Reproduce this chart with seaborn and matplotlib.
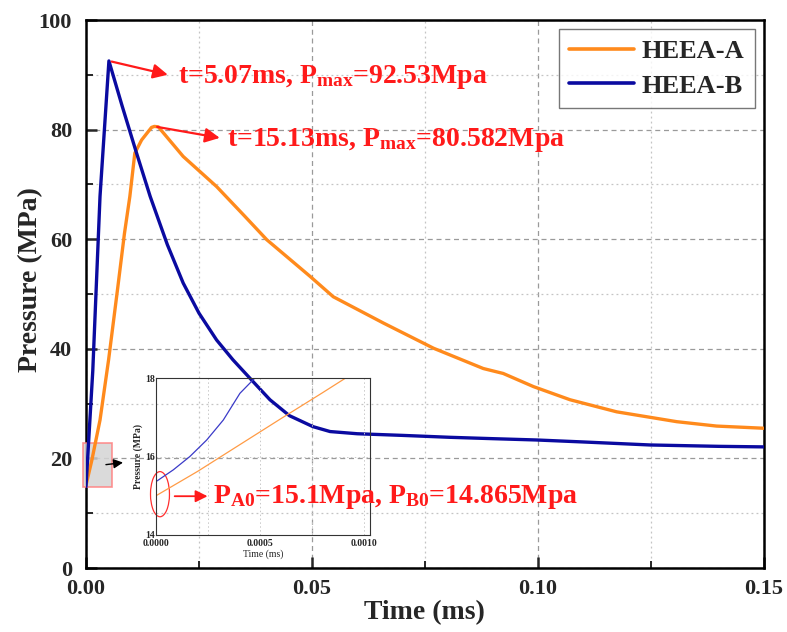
import matplotlib
matplotlib.use("Agg")
import matplotlib.pyplot as plt
from matplotlib.patches import Ellipse, Rectangle
from matplotlib.ticker import MultipleLocator, FormatStrFormatter
import pandas as pd
import seaborn as sns

# ── data ───────────────────────────────────────────────────────────
time_a = [0.0, 0.0013, 0.0031, 0.005, 0.007, 0.0085, 0.0097, 0.0108, 0.0123,
          0.0145, 0.01513, 0.016, 0.0215, 0.0289, 0.035, 0.040, 0.0496, 0.0547,
          0.0658, 0.0769, 0.0879, 0.0923, 0.099, 0.1071, 0.1174, 0.1307,
          0.1395, 0.15]
press_a = [15.1, 19.7, 27.0, 38.0, 51.0, 61.0, 67.8, 75.7, 78.1,
           80.4, 80.582, 80.5, 75.1, 69.6, 64.3, 59.9, 53.2, 49.5,
           44.7, 40.1, 36.4, 35.5, 33.1, 30.7, 28.5, 26.7,
           25.9, 25.5]

time_b = [0.0, 0.0015, 0.0031, 0.00507, 0.008, 0.011, 0.0142, 0.018, 0.0215,
          0.025, 0.0289, 0.0325, 0.0363, 0.0407, 0.045, 0.0502, 0.054, 0.060,
          0.070, 0.0805, 0.090, 0.0997, 0.110, 0.1248, 0.140, 0.15]
press_b = [14.865, 36.0, 67.8, 92.53, 84.3, 76.2, 67.8, 59.0, 52.0,
           46.5, 41.6, 38.0, 34.6, 30.7, 27.8, 25.8, 24.9, 24.5,
           24.2, 23.85, 23.6, 23.36, 23.0, 22.45, 22.2, 22.1]

# inset (zoom on the first microsecond)
inset_time_a = [0.0, 0.0002, 0.0004, 0.0006, 0.0008, 0.000913]
inset_press_a = [15.0, 15.62, 16.29, 16.96, 17.62, 18.0]
inset_time_b = [0.0, 0.0000833, 0.000163, 0.000244, 0.000324, 0.000404, 0.000476]
inset_press_b = [15.36, 15.66, 16.0, 16.42, 16.93, 17.61, 18.0]

series_names = ["HEEA-A", "HEEA-B"]
series_colors = {"HEEA-A": "#FF8A1C", "HEEA-B": "#0A0AA0"}
inset_colors = {"HEEA-A": "#FF9B45", "HEEA-B": "#3A3AC8"}

main_df = pd.concat([
    pd.DataFrame({"time": time_a, "pressure": press_a, "alloy": "HEEA-A"}),
    pd.DataFrame({"time": time_b, "pressure": press_b, "alloy": "HEEA-B"}),
])
inset_df = pd.concat([
    pd.DataFrame({"time": inset_time_a, "pressure": inset_press_a, "alloy": "HEEA-A"}),
    pd.DataFrame({"time": inset_time_b, "pressure": inset_press_b, "alloy": "HEEA-B"}),
])

sns.set_theme(style="ticks")
plt.rcParams["font.family"] = ["Liberation Serif", "DejaVu Serif"]
plt.rcParams["font.weight"] = "bold"
plt.rcParams["mathtext.fontset"] = "custom"
plt.rcParams["mathtext.rm"] = "Liberation Serif:bold"
plt.rcParams["mathtext.it"] = "Liberation Serif:bold"
plt.rcParams["mathtext.bf"] = "Liberation Serif:bold"

W, H = 787, 632
fig = plt.figure(figsize=(W / 100, H / 100), dpi=100)
ax = fig.add_axes([86 / W, 1 - 568 / H, 678 / W, 548 / H])

sns.lineplot(data=main_df, x="time", y="pressure", hue="alloy",
             hue_order=series_names, palette=series_colors,
             linewidth=2.4, sort=False, ax=ax, zorder=5)

ax.set_xlim(0, 0.15)
ax.set_ylim(0, 100)
ax.xaxis.set_major_locator(MultipleLocator(0.05))
ax.xaxis.set_minor_locator(MultipleLocator(0.025))
ax.yaxis.set_major_locator(MultipleLocator(20))
ax.yaxis.set_minor_locator(MultipleLocator(10))
ax.xaxis.set_major_formatter(FormatStrFormatter("%.2f"))
ax.grid(which="major", linestyle=(0, (4, 3)), color="#9a9a9a", linewidth=0.9)
ax.grid(which="minor", linestyle=(0, (1.5, 2.5)), color="#c4c4c4", linewidth=0.9)
ax.set_axisbelow(True)
ax.tick_params(which="major", direction="in", length=8, width=1.8, labelsize=16)
ax.tick_params(axis="x", which="major", pad=8)
ax.tick_params(axis="y", which="major", pad=10)
ax.tick_params(which="minor", direction="in", length=5, width=1.4)
for s in ax.spines.values():
    s.set_linewidth(1.8)
    s.set_color("black")
ax.set_xlabel("Time (ms)", fontsize=20, fontweight="bold")
ax.set_ylabel("Pressure (MPa)", fontsize=20, fontweight="bold")
ax.xaxis.set_label_coords(0.499, -0.058)
ax.yaxis.set_label_coords(-0.063, 0.526)

leg = ax.legend(title=None, loc="upper right", frameon=True, fancybox=False,
                prop={"weight": "bold", "size": 19}, handlelength=2.45,
                borderpad=0.4, labelspacing=0.42, handletextpad=0.3,
                borderaxespad=0, bbox_to_anchor=(0.9867, 0.9836))
leg.get_frame().set_edgecolor("#555555")
leg.get_frame().set_linewidth(1.0)
for line in leg.get_lines():
    line.set_linewidth(2.6)

# peak annotations
red = "#FF1A1A"
ax.annotate("", xy=(0.0187, 89.9), xytext=(0.00507, 92.53),
            arrowprops=dict(arrowstyle="-|>", color=red, lw=1.6,
                            mutation_scale=22), zorder=6)
ax.text(0.0203, 89.6, "t=5.07ms, P$_{\\mathrm{max}}$=92.53Mpa", color=red,
        fontsize=20, fontweight="bold", va="center", ha="left")
ax.annotate("", xy=(0.0302, 78.4), xytext=(0.01513, 80.582),
            arrowprops=dict(arrowstyle="-|>", color=red, lw=1.6,
                            mutation_scale=22), zorder=6)
ax.text(0.0313, 78.1, "t=15.13ms, P$_{\\mathrm{max}}$=80.582Mpa", color=red,
        fontsize=20, fontweight="bold", va="center", ha="left")

# highlighted start region
ax.add_patch(Rectangle((-0.0007, 14.8), 0.0064, 8.0, facecolor="#d4d4d4",
                       edgecolor="#ff8080", linewidth=1.2, alpha=0.85,
                       clip_on=False, zorder=4))
ax.annotate("", xy=(0.0088, 19.3), xytext=(0.0038, 18.8),
            arrowprops=dict(arrowstyle="-|>", color="black", lw=1.0,
                            mutation_scale=14), zorder=6)

# inset
ins = fig.add_axes([156 / W, 1 - 535 / H, 214 / W, 157 / H])
ins.patch.set_alpha(0.0)
sns.lineplot(data=inset_df, x="time", y="pressure", hue="alloy",
             hue_order=series_names, palette=inset_colors,
             linewidth=0.9, sort=False, legend=False, ax=ins)
ins.set_xlim(0, 0.00103)
ins.set_ylim(14, 18)
ins.xaxis.set_major_locator(MultipleLocator(0.0005))
ins.xaxis.set_minor_locator(MultipleLocator(0.00025))
ins.yaxis.set_major_locator(MultipleLocator(2))
ins.xaxis.set_major_formatter(FormatStrFormatter("%.4f"))
ins.grid(axis="x", which="both", linestyle=(0, (1.5, 2.5)), color="#c8c8c8",
         linewidth=0.7)
ins.grid(axis="y", which="major", linestyle=(0, (1.5, 2.5)), color="#c8c8c8",
         linewidth=0.7)
ins.tick_params(which="both", direction="in", length=0, labelsize=7)
ins.tick_params(axis="x", pad=3)
ins.tick_params(axis="y", pad=1)
for s in ins.spines.values():
    s.set_linewidth(0.8)
    s.set_color("#333333")
ins.set_xlabel("Time (ms)", fontsize=7, fontweight="normal", labelpad=1)
ins.set_ylabel("Pressure (MPa)", fontsize=7, fontweight="bold", labelpad=1)
ins.add_patch(Ellipse((0.0000192, 15.04), 0.0000913, 1.15, fill=False,
                      edgecolor="#ff3030", linewidth=0.9, clip_on=False))

# start pressure annotation, drawn with the inset so it sits on top of it
ins.annotate("", xy=(0.0275, 13.1), xytext=(0.0190, 13.1),
             xycoords=ax.transData, textcoords=ax.transData,
             annotation_clip=False,
             arrowprops=dict(arrowstyle="-|>", color=red, lw=1.3,
                             mutation_scale=18))
ins.text(0.0282, 13.0, "P$_{\\mathrm{A0}}$=15.1Mpa, P$_{\\mathrm{B0}}$=14.865Mpa",
         transform=ax.transData, clip_on=False, color=red, fontsize=20,
         fontweight="bold", va="center", ha="left")

fig.savefig("out.png", dpi=100)
